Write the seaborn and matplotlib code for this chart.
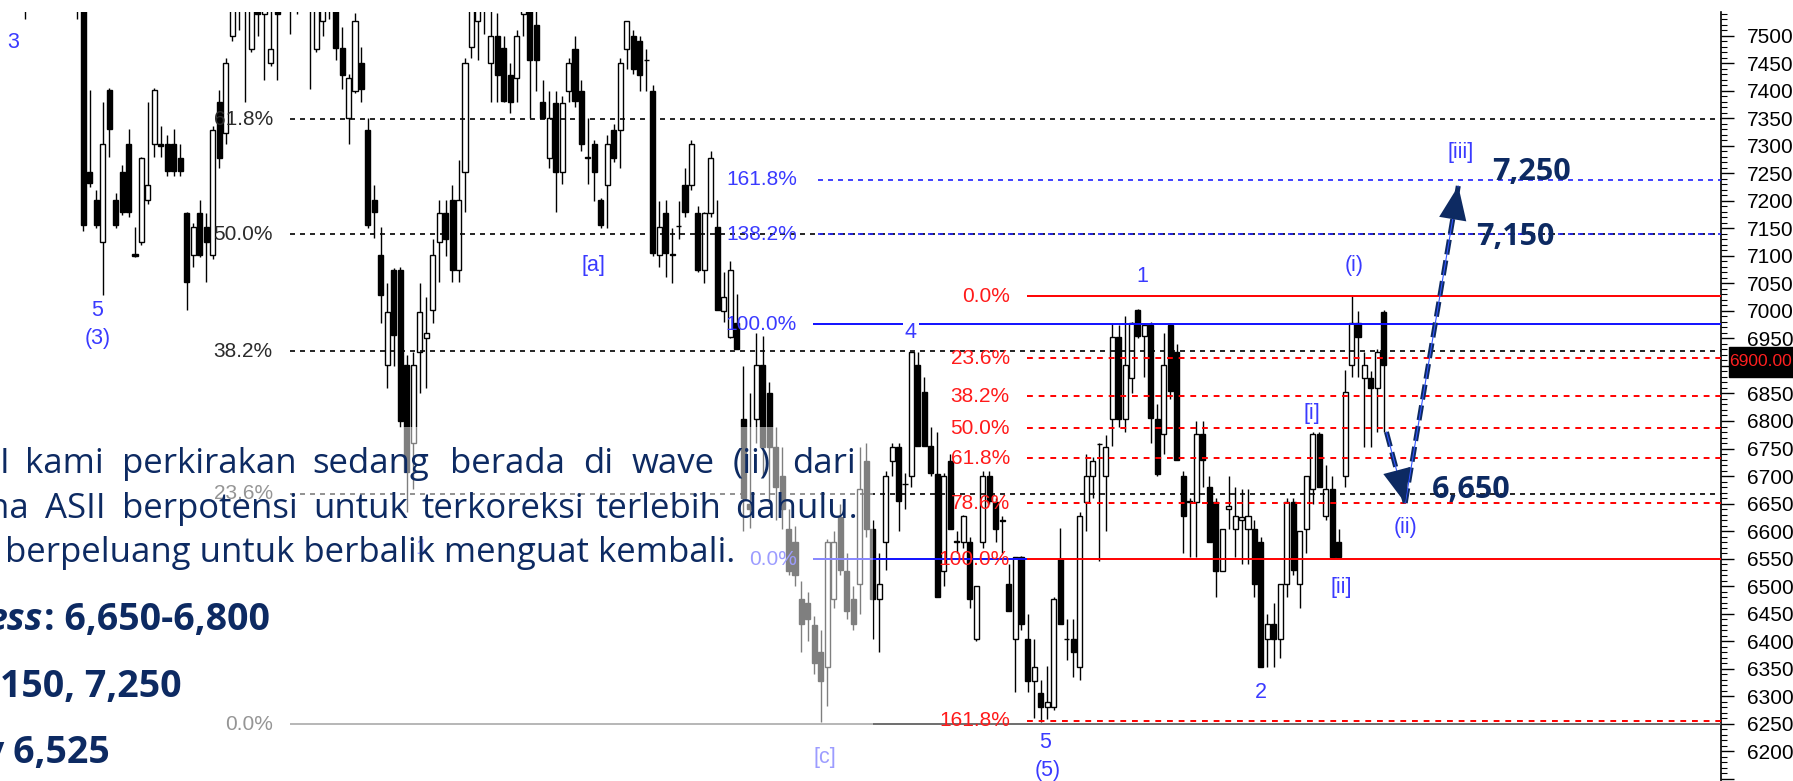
import numpy as np
import pandas as pd
import seaborn as sns
import matplotlib.pyplot as plt
from matplotlib import font_manager
from matplotlib.patches import Rectangle
from matplotlib.ticker import MultipleLocator, FuncFormatter

# daily candles (first few sit above the visible range)
opens = [7600, 7580, 7610, 7650, 7640, 7620, 7600, 7590, 7580, 7565,
         7252, 7201, 7125, 7402, 7201, 7252, 7304, 7103, 7125, 7201,
         7304, 7304, 7304, 7304, 7277, 7178, 7101, 7178, 7152, 7101,
         7379, 7324, 7500, 7600, 7580, 7476, 7560, 7540, 7451, 7560,
         7600, 7620, 7580, 7600, 7560, 7476, 7527, 7560, 7560, 7478,
         7350, 7400, 7451, 7328, 7201, 7101, 6902, 7074, 7074, 6902,
         6760, 6926, 6950, 7002, 7125, 7178, 7201, 7074, 7252, 7480,
         7527, 7580, 7451, 7500, 7478, 7428, 7424, 7540, 7580, 7520,
         7379, 7277, 7378, 7252, 7400, 7476, 7400, 7280, 7304, 7201,
         7228, 7328, 7328, 7476, 7500, 7490, 7456, 7400, 7101, 7178,
         7103, 7155, 7228, 7228, 7178, 7074, 7178, 7152, 7000, 6953,
         6978, 6803, 6650, 6803, 6902, 6850, 6752, 6700, 6604, 6580,
         6477, 6470, 6430, 6381, 6354, 6477, 6625, 6527, 6477, 6504,
         6727, 6604, 6477, 6580, 6727, 6752, 6685, 6700, 6902, 6852,
         6755, 6703, 6527, 6727, 6580, 6580, 6580, 6404, 6580, 6700,
         6652, 6620, 6504, 6404, 6553, 6404, 6328, 6305, 6280, 6281,
         6550, 6404, 6404, 6354, 6652, 6700, 6758, 6700, 6803, 6953,
         6803, 6879, 7002, 6955, 6975, 6803, 6776, 6975, 6926, 6700,
         6655, 6652, 6776, 6680, 6652, 6527, 6640, 6604, 6620, 6604,
         6604, 6580, 6404, 6432, 6404, 6504, 6652, 6504, 6604, 6676,
         6776, 6627, 6676, 6580, 6700, 6902, 6978, 6879, 6879, 6860,
         6998]
highs = [7640, 7620, 7660, 7700, 7680, 7660, 7640, 7630, 7610, 7590,
         7402, 7220, 7379, 7405, 7215, 7265, 7330, 7152, 7280, 7380,
         7405, 7335, 7320, 7330, 7304, 7180, 7160, 7201, 7178, 7335,
         7402, 7460, 7650, 7680, 7640, 7600, 7620, 7600, 7560, 7600,
         7650, 7660, 7620, 7640, 7600, 7600, 7580, 7600, 7600, 7515,
         7430, 7542, 7480, 7350, 7228, 7152, 7051, 7078, 7080, 6920,
         6926, 7051, 7025, 7130, 7201, 7201, 7228, 7274, 7460, 7580,
         7600, 7620, 7560, 7542, 7500, 7450, 7510, 7600, 7620, 7560,
         7420, 7400, 7400, 7390, 7460, 7500, 7420, 7350, 7310, 7205,
         7320, 7340, 7460, 7527, 7510, 7500, 7476, 7410, 7200, 7201,
         7150, 7200, 7260, 7310, 7190, 7180, 7290, 7201, 7070, 7090,
         7030, 6900, 6850, 6960, 6955, 6870, 6790, 6752, 6640, 6610,
         6510, 6490, 6445, 6420, 6585, 6600, 6650, 6560, 6500, 6752,
         6760, 6620, 6560, 6710, 6760, 6760, 6705, 6926, 6926, 6880,
         6790, 6780, 6705, 6740, 6600, 6630, 6590, 6500, 6710, 6710,
         6660, 6628, 6540, 6553, 6555, 6450, 6404, 6330, 6355, 6480,
         6605, 6440, 6440, 6635, 6740, 6735, 6760, 6775, 6978, 6975,
         6990, 6980, 7003, 6978, 6980, 6830, 6960, 6978, 6940, 6710,
         6660, 6800, 6800, 6700, 6660, 6604, 6700, 6680, 6676, 6676,
         6620, 6590, 6450, 6470, 6504, 6660, 6660, 6600, 6700, 6780,
         6780, 6720, 6700, 6604, 6893, 7027, 7000, 6926, 6890, 6930,
         7002]
lows = [7531, 7560, 7590, 7620, 7600, 7580, 7570, 7555, 7531, 7145,
        7225, 7150, 7029, 7279, 7150, 7175, 7170, 7098, 7120, 7195,
        7279, 7280, 7245, 7245, 7245, 7002, 7080, 7098, 7053, 7095,
        7260, 7304, 7490, 7510, 7379, 7470, 7500, 7420, 7445, 7420,
        7560, 7503, 7540, 7560, 7403, 7470, 7500, 7530, 7455, 7403,
        7304, 7395, 7379, 7150, 7132, 6978, 6860, 6900, 6790, 6634,
        6676, 6850, 6860, 6978, 7053, 7100, 7053, 7053, 7180, 7460,
        7455, 7503, 7379, 7379, 7379, 7360, 7380, 7500, 7351, 7400,
        7350, 7260, 7180, 7230, 7380, 7370, 7290, 7230, 7200, 7150,
        7150, 7270, 7260, 7440, 7430, 7400, 7400, 7100, 7080, 7062,
        7050, 7130, 7170, 7220, 7070, 7050, 7170, 7002, 6980, 6950,
        6930, 6600, 6605, 6760, 6700, 6650, 6620, 6604, 6520, 6500,
        6380, 6400, 6340, 6254, 6283, 6460, 6520, 6440, 6420, 6450,
        6590, 6404, 6380, 6530, 6700, 6600, 6640, 6680, 6755, 6755,
        6700, 6480, 6500, 6604, 6560, 6570, 6460, 6400, 6570, 6650,
        6580, 6560, 6455, 6308, 6420, 6308, 6260, 6254, 6258, 6275,
        6432, 6366, 6335, 6330, 6600, 6660, 6545, 6600, 6754, 6790,
        6780, 6850, 6950, 6880, 6760, 6700, 6740, 6840, 6730, 6560,
        6553, 6553, 6680, 6580, 6480, 6527, 6604, 6553, 6540, 6540,
        6480, 6354, 6354, 6354, 6370, 6480, 6520, 6460, 6560, 6650,
        6680, 6620, 6553, 6553, 6680, 6880, 6880, 6752, 6752, 6780,
        6780]
closes = [7570, 7610, 7650, 7640, 7620, 7600, 7590, 7580, 7565, 7156,
          7232, 7156, 7304, 7330, 7156, 7180, 7180, 7100, 7277, 7228,
          7402, 7300, 7255, 7255, 7255, 7053, 7152, 7101, 7125, 7328,
          7277, 7451, 7600, 7620, 7600, 7560, 7540, 7560, 7476, 7540,
          7620, 7560, 7560, 7620, 7580, 7560, 7560, 7550, 7478, 7428,
          7424, 7527, 7404, 7156, 7180, 7029, 6998, 6956, 6800, 6707,
          6902, 6998, 6960, 7101, 7178, 7130, 7074, 7201, 7451, 7560,
          7580, 7560, 7500, 7428, 7382, 7379, 7500, 7560, 7455, 7455,
          7351, 7350, 7252, 7378, 7451, 7382, 7304, 7277, 7252, 7156,
          7304, 7277, 7451, 7527, 7440, 7428, 7456, 7105, 7152, 7105,
          7101, 7155, 7180, 7304, 7074, 7178, 7277, 7002, 7025, 7074,
          6930, 6660, 6640, 6902, 6752, 6752, 6680, 6640, 6527, 6520,
          6432, 6440, 6360, 6328, 6580, 6580, 6530, 6455, 6432, 6676,
          6604, 6477, 6504, 6700, 6752, 6654, 6685, 6926, 6755, 6755,
          6705, 6480, 6700, 6604, 6582, 6627, 6477, 6500, 6700, 6655,
          6604, 6618, 6455, 6553, 6432, 6328, 6354, 6281, 6290, 6477,
          6432, 6404, 6381, 6627, 6700, 6727, 6758, 6752, 6953, 6803,
          6902, 6978, 6955, 6975, 6806, 6703, 6902, 6855, 6730, 6627,
          6652, 6776, 6730, 6580, 6527, 6604, 6645, 6627, 6625, 6627,
          6504, 6354, 6432, 6404, 6504, 6652, 6530, 6600, 6700, 6776,
          6680, 6676, 6553, 6553, 6852, 6978, 6953, 6902, 6860, 6926,
          6902]

# fibonacci retracement / projection levels
fib_black = [7348, 7139, 6927, 6668, 6249]
fib_black_lbl = ['61.8%', '50.0%', '38.2%', '23.6%', '0.0%']
fib_blue = [7238, 7139, 6976, 6549]
fib_blue_lbl = ['161.8%', '138.2%', '100.0%', '0.0%']
fib_red = [7027, 6914, 6845, 6787, 6732, 6651, 6549, 6255]
fib_red_lbl = ['0.0%', '23.6%', '38.2%', '50.0%', '61.8%', '78.6%', '100.0%', '161.8%']

# elliott wave labels (candle index, price)
wave_lbl = ['3', '5', '(3)', '[a]', '4', '1', '(i)', '[iii]', '[i]', '[ii]',
            '(ii)', '2', '5', '(5)', '[c]', '1']
wave_x = [-1.85, 11.1, 11.3, 87.8, 136.9, 172.6, 205.4, 221.8, 198.8, 203.4,
          213.3, 191.0, 157.7, 158.0, 123.6, 61.2]
wave_y = [7488, 7001, 6949, 7083, 6960, 7063, 7083, 7287, 6814, 6498,
          6607, 6306, 6216, 6165, 6188, 6569]

# projected path and targets
path_x = [210.4, 213.3, 221.5]
path_y = [6780, 6651, 7227]
target_lbl = ['7,250', '7,150', '6,650']
target_x = [232.8, 230.4, 223.5]
target_y = [7252, 7134, 6674]
last_price = 6900

sns.set_theme(style='white')
names = {f.name for f in font_manager.fontManager.ttflist}
narrow = 'Liberation Sans Narrow' if 'Liberation Sans Narrow' in names else 'Liberation Sans'
body_font = 'Open Sans' if 'Open Sans' in names else 'Noto Sans'
plt.rcParams['font.family'] = [narrow, 'DejaVu Sans']
lbl_size = 16.5 if narrow == 'Liberation Sans Narrow' else 15

W, H = 1793, 781
navy = '#0d2a62'
wblue = '#3a3aff'
red = '#ff1a1a'

fig = plt.figure(figsize=(W / 100, H / 100), dpi=100)
ax = fig.add_axes([0, 0, 1721 / W, 1 - 12 / H])

df = pd.DataFrame({'open': opens, 'high': highs, 'low': lows, 'close': closes})
df['idx'] = np.arange(len(df))
up = df['close'] >= df['open']

ax.vlines(df['idx'], df['low'], df['high'], color='black', lw=1.0, zorder=2)
ax.bar(df['idx'][up], (df['close'] - df['open'])[up], bottom=df['open'][up],
       width=0.78, facecolor='white', edgecolor='black', lw=1.0, zorder=3)
ax.bar(df['idx'][~up], (df['open'] - df['close'])[~up], bottom=df['close'][~up],
       width=0.78, facecolor='black', edgecolor='black', lw=1.0, zorder=3)

xmax = 262.1
ax.set_xlim(-3.86, xmax)
ax.set_ylim(6146, 7543)

dash = (0, (3, 3))
# black fib set
for lvl, lbl in zip(fib_black, fib_black_lbl):
    ls = '-' if lbl == '0.0%' else dash
    col = '#555555' if lbl == '0.0%' else 'black'
    ax.hlines(lvl, 41.0, xmax, color=col, lw=1.2, linestyles=ls, zorder=4)
    ax.text(38.3, lvl, lbl, ha='right', va='center', fontsize=lbl_size, color='#2b2b2b', zorder=6)
# blue fib set
for lvl, lbl in zip(fib_blue, fib_blue_lbl):
    if lbl in ('161.8%', '138.2%'):
        ax.hlines(lvl, 121.8, xmax, color='#2020ff', lw=1.2, linestyles=(3, (3, 3)), zorder=4)
    elif lbl == '100.0%':
        ax.hlines(lvl, 121.8, xmax, color='#1010ff', lw=1.4, zorder=4)
    else:
        ax.hlines(lvl, 121.8, 154.9, color='#1010ff', lw=1.4, zorder=4)
    ax.text(119.3, lvl, lbl, ha='right', va='center', fontsize=lbl_size, color=wblue, zorder=6)
# red fib set
for lvl, lbl in zip(fib_red, fib_red_lbl):
    ls = '-' if lbl in ('0.0%', '100.0%') else dash
    ax.hlines(lvl, 154.9, xmax, color='#ff0000', lw=1.4, linestyles=ls, zorder=4)
    ax.text(152.2, lvl, lbl, ha='right', va='center', fontsize=lbl_size, color=red, zorder=6)

for s, x, y in zip(wave_lbl, wave_x, wave_y):
    bb = dict(fc='white', ec='none', pad=1.5) if s == '4' else None
    ax.text(x, y, s, ha='center', va='center', fontsize=lbl_size + 0.5, color=wblue,
            bbox=bb, zorder=6)

# projected path: down into wave (ii), then up into wave [iii]
ax.plot(path_x[:2], path_y[:2], color=navy, lw=3.6, dashes=(3, 1.2), zorder=7)
ax.plot(path_x[1:], path_y[1:], color=navy, lw=3.6, dashes=(3, 1.2), zorder=7)
ax.plot(path_x, path_y, color='#3355ff', lw=0.8, zorder=8)
for a, b in [(0, 1), (1, 2)]:
    tip = (path_x[b], path_y[b])
    back = (path_x[b] - 0.15 * (path_x[b] - path_x[a]), path_y[b] - 0.15 * (path_y[b] - path_y[a]))
    ax.annotate('', xy=tip, xytext=back,
                arrowprops=dict(arrowstyle='-|>,head_length=1.1,head_width=0.45',
                                color=navy, lw=0, mutation_scale=22, shrinkA=0, shrinkB=0),
                zorder=8)

for s, x, y in zip(target_lbl, target_x, target_y):
    ax.text(x, y, s, ha='center', va='center', fontsize=22, fontweight='bold',
            family=body_font, color=navy, zorder=9)

# right price axis (the 6900 label sits under the last-price tag)
sns.despine(ax=ax, left=True, bottom=True, top=True, right=False)
ax.spines['right'].set_color('black')
ax.spines['right'].set_linewidth(1.2)
ax.yaxis.tick_right()
ax.set_xticks([])
ax.yaxis.set_major_locator(MultipleLocator(50))
ax.yaxis.set_minor_locator(MultipleLocator(10))
ax.yaxis.set_major_formatter(FuncFormatter(
    lambda v, p: f'{v:.0f}' if 6200 <= v <= 7500 and round(v) != last_price else ''))
ax.tick_params(axis='y', which='major', length=9.5, width=1.0, direction='out',
               labelsize=lbl_size, pad=9, colors='black')
ax.tick_params(axis='y', which='minor', length=4.5, width=0.8, direction='out', colors='black')
ax.grid(False)
ax.set_facecolor('white')


def fx(x):
    return x / W


def fy(y):
    return 1 - y / H


# last price tag over the axis
fig.add_artist(Rectangle((fx(1729), fy(377)), 64 / W, 30 / H, transform=fig.transFigure,
                         fc='black', ec='black', zorder=2))
fig.text(fx(1761), fy(362), f'{last_price:.2f}', ha='center', va='center', fontsize=12.5,
         color='#ff2020', zorder=3)

# comment box pasted over the lower left of the chart
fig.add_artist(Rectangle((0, 0), 873 / W, (H - 427) / H, transform=fig.transFigure,
                         fc='white', ec='none', alpha=0.5, zorder=1))

txt = dict(family=body_font, color=navy, fontsize=25, va='baseline', zorder=3)
line1 = [('I', 0), ('kami', 25), ('perkirakan', 122), ('sedang', 312), ('berada', 450),
         ('di', 583), ('wave', 632), ('(ii)', 733), ('dari', 792)]
line2 = [('ASII', 45), ('berpotensi', 122), ('untuk', 313), ('terkoreksi', 422),
         ('terlebih', 595), ('dahulu.', 735)]
for w, x in line1:
    fig.text(fx(x), fy(473), w, ha='left', **txt)
fig.text(fx(29), fy(518), 'na', ha='right', **txt)
for w, x in line2:
    fig.text(fx(x), fy(518), w, ha='left', **txt)
fig.text(fx(5), fy(562), 'berpeluang untuk berbalik menguat kembali.', ha='left', **txt)

bold = dict(family=body_font, color=navy, fontsize=27, fontweight='bold', va='baseline', zorder=3)
fig.text(fx(43), fy(630), 'ess', ha='right', style='italic', **bold)
fig.text(fx(44), fy(630), ': 6,650-6,800', ha='left', **bold)
fig.text(fx(0), fy(697), '150, 7,250', ha='left', **bold)
fig.text(fx(110), fy(763), 'y 6,525', ha='right', **bold)

fig.savefig('out.png', dpi=100, facecolor='white')
